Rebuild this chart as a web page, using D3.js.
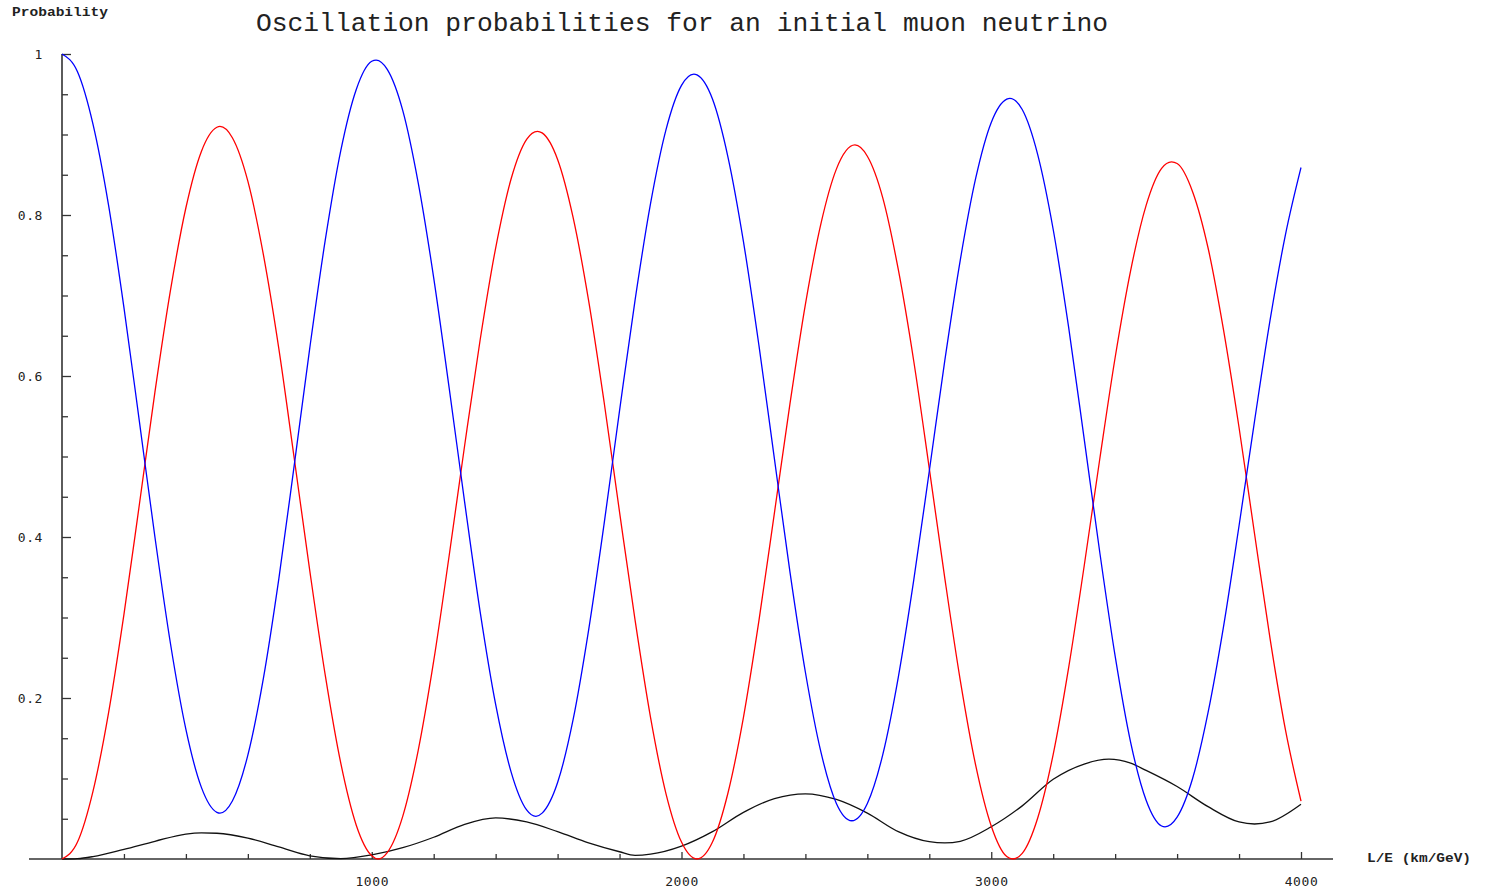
<!DOCTYPE html>
<html>
<head>
<meta charset="utf-8">
<script src="https://cdn.jsdelivr.net/npm/d3@7"></script>
<style>
  body { margin: 0; background: #fff; }
  svg { display: block; }
</style>
</head>
<body>
<div id="chart"></div>
<script>
// values: [L/E (km/GeV), probability]
var muToMu = [
	[0, 1.0], [50, 0.978], [100, 0.913], [150, 0.813], [200, 0.685], [250, 0.543],
	[300, 0.400], [350, 0.268], [400, 0.161], [450, 0.089], [500, 0.058], [510, 0.057],
	[550, 0.072], [600, 0.129], [650, 0.224], [700, 0.348], [750, 0.490], [800, 0.635],
	[850, 0.769], [900, 0.880], [950, 0.956], [1000, 0.991], [1014, 0.9925], [1050, 0.981],
	[1100, 0.930], [1150, 0.840], [1200, 0.722], [1250, 0.585], [1300, 0.443], [1350, 0.307],
	[1400, 0.192], [1450, 0.108], [1500, 0.061], [1530, 0.053], [1550, 0.057], [1600, 0.095],
	[1650, 0.173], [1700, 0.284], [1750, 0.416], [1800, 0.557], [1850, 0.694], [1900, 0.814],
	[1950, 0.906], [2000, 0.961], [2040, 0.975], [2050, 0.974], [2100, 0.944], [2150, 0.872],
	[2200, 0.767], [2250, 0.638], [2300, 0.497], [2350, 0.357], [2400, 0.232], [2450, 0.133],
	[2500, 0.069], [2550, 0.0475], [2600, 0.069], [2650, 0.130], [2700, 0.226], [2750, 0.347],
	[2800, 0.482], [2850, 0.619], [2900, 0.744], [2950, 0.846], [3000, 0.915], [3050, 0.944],
	[3060, 0.945], [3100, 0.931], [3150, 0.875], [3200, 0.782], [3250, 0.660], [3300, 0.522],
	[3350, 0.382], [3400, 0.252], [3450, 0.145], [3500, 0.073], [3550, 0.041], [3561, 0.040],
	[3600, 0.052], [3650, 0.100], [3700, 0.182], [3750, 0.289], [3800, 0.414], [3850, 0.544],
	[3900, 0.669], [3950, 0.776], [4000, 0.859]
];

var muToTau = [
	[0, 0], [50, 0.021], [100, 0.084], [150, 0.181], [200, 0.304], [250, 0.441],
	[300, 0.580], [350, 0.706], [400, 0.809], [450, 0.879], [500, 0.909], [510, 0.910],
	[550, 0.896], [600, 0.842], [650, 0.751], [700, 0.634], [750, 0.497], [800, 0.358],
	[850, 0.228], [900, 0.119], [950, 0.042], [1000, 0.004], [1020, 0], [1050, 0.008],
	[1100, 0.053], [1150, 0.135], [1200, 0.246], [1250, 0.377], [1300, 0.514], [1350, 0.645],
	[1400, 0.759], [1450, 0.845], [1500, 0.894], [1535, 0.904], [1550, 0.902], [1600, 0.869],
	[1650, 0.797], [1700, 0.694], [1750, 0.568], [1800, 0.431], [1850, 0.297], [1900, 0.176],
	[1950, 0.081], [2000, 0.021], [2050, 0], [2100, 0.021], [2150, 0.082], [2200, 0.176],
	[2250, 0.296], [2300, 0.430], [2350, 0.565], [2400, 0.689], [2450, 0.789], [2500, 0.857],
	[2560, 0.887], [2600, 0.873], [2650, 0.821], [2700, 0.732], [2750, 0.618], [2800, 0.485],
	[2850, 0.349], [2900, 0.222], [2950, 0.116], [3000, 0.041], [3050, 0.003], [3070, 0],
	[3100, 0.007], [3150, 0.051], [3200, 0.130], [3250, 0.238], [3300, 0.364], [3350, 0.496],
	[3400, 0.623], [3450, 0.731], [3500, 0.812], [3550, 0.858], [3582, 0.866], [3600, 0.864],
	[3650, 0.829], [3700, 0.759], [3750, 0.657], [3800, 0.536], [3850, 0.404], [3900, 0.274],
	[3950, 0.160], [4000, 0.072]
];

var muToE = [
	[0, 0], [50, 0.0005], [100, 0.003], [200, 0.012], [300, 0.022], [400, 0.031],
	[450, 0.0325], [500, 0.032], [600, 0.026], [700, 0.015], [800, 0.004], [900, 0.0005],
	[1000, 0.005], [1100, 0.014], [1200, 0.027], [1300, 0.043], [1400, 0.051], [1500, 0.046],
	[1600, 0.034], [1700, 0.020], [1800, 0.009], [1850, 0.0045], [1900, 0.006], [2000, 0.016],
	[2100, 0.034], [2200, 0.058], [2300, 0.075], [2400, 0.081], [2500, 0.074], [2600, 0.057],
	[2700, 0.034], [2800, 0.0215], [2850, 0.020], [2900, 0.022], [3000, 0.040], [3100, 0.066],
	[3200, 0.099], [3300, 0.118], [3380, 0.124], [3450, 0.119], [3500, 0.110], [3600, 0.090],
	[3700, 0.065], [3800, 0.046], [3850, 0.0435], [3900, 0.046], [4000, 0.068]
];

var xMajorTicks = [1000, 2000, 3000, 4000];
var xMinorTicks = [200, 400, 600, 800, 1200, 1400, 1600, 1800, 2200, 2400, 2600, 2800, 3200, 3400, 3600, 3800];
var yMajorTicks = [0.2, 0.4, 0.6, 0.8, 1];
var yMinorTicks = [0.05, 0.1, 0.15, 0.25, 0.3, 0.35, 0.45, 0.5, 0.55, 0.65, 0.7, 0.75, 0.85, 0.9, 0.95];

var titleText = 'Oscillation probabilities for an initial muon neutrino';
var yLabelText = 'Probability';
var xLabelText = 'L/E (km/GeV)';

var width = 1486;
var height = 889;

var svg = d3.select('#chart')
	.append('svg')
	.attr('width', width)
	.attr('height', height);

var x = d3.scaleLinear().domain([0, 4000]).range([62, 1301]);
var y = d3.scaleLinear().domain([0, 1]).range([859, 54]);

var axisColor = '#333';
var tickFont = '"DejaVu Sans Mono", monospace';

// x axis line runs a bit past both ends of the data
svg.append('line')
	.attr('x1', 29)
	.attr('x2', 1333)
	.attr('y1', y(0))
	.attr('y2', y(0))
	.attr('stroke', axisColor)
	.attr('stroke-width', 1.6);

function styleAxis(g) {
	g.select('.domain').remove();
	g.selectAll('.tick line')
		.attr('stroke', axisColor)
		.attr('stroke-width', 1.3);
	g.selectAll('.tick text')
		.attr('fill', '#222')
		.style('font-family', tickFont)
		.style('font-size', '13px')
		.style('letter-spacing', '0.6px');
}

svg.append('g')
	.attr('transform', 'translate(0,' + y(0) + ')')
	.call(d3.axisBottom(x)
		.tickValues(xMajorTicks)
		.tickSizeInner(-7)
		.tickSizeOuter(0)
		.tickPadding(18)
		.tickFormat(d3.format('d')))
	.call(styleAxis);

svg.append('g')
	.attr('transform', 'translate(0,' + y(0) + ')')
	.call(d3.axisBottom(x)
		.tickValues(xMinorTicks)
		.tickSizeInner(-5)
		.tickSizeOuter(0)
		.tickFormat(''))
	.call(styleAxis);

// y axis
svg.append('line')
	.attr('x1', x(0))
	.attr('x2', x(0))
	.attr('y1', y(0))
	.attr('y2', y(1))
	.attr('stroke', axisColor)
	.attr('stroke-width', 1.6);

svg.append('g')
	.attr('transform', 'translate(' + x(0) + ',0)')
	.call(d3.axisLeft(y)
		.tickValues(yMajorTicks)
		.tickSizeInner(-9)
		.tickSizeOuter(0)
		.tickPadding(19)
		.tickFormat(function(d) { return d === 1 ? '1' : d3.format('.1f')(d); }))
	.call(styleAxis);

svg.append('g')
	.attr('transform', 'translate(' + x(0) + ',0)')
	.call(d3.axisLeft(y)
		.tickValues(yMinorTicks)
		.tickSizeInner(-6)
		.tickSizeOuter(0)
		.tickFormat(''))
	.call(styleAxis);

// curves
var line = d3.line()
	.x(function(d) { return x(d[0]); })
	.y(function(d) { return y(d[1]); })
	.curve(d3.curveMonotoneX);

var series = [
	{ values: muToE, color: '#111' },
	{ values: muToTau, color: '#ff0000' },
	{ values: muToMu, color: '#0000ff' }
];

svg.selectAll('path.curve')
	.data(series)
	.enter()
	.append('path')
	.attr('class', 'curve')
	.attr('d', function(s) { return line(s.values); })
	.attr('fill', 'none')
	.attr('stroke', function(s) { return s.color; })
	.attr('stroke-width', 1.3);

// texts
svg.append('text')
	.attr('x', 256)
	.attr('y', 31)
	.attr('textLength', 852)
	.attr('lengthAdjust', 'spacingAndGlyphs')
	.style('font-family', '"Liberation Mono", "Courier New", monospace')
	.style('font-size', '25px')
	.attr('fill', '#222')
	.text(titleText);

svg.append('text')
	.attr('x', 12)
	.attr('y', 16)
	.attr('textLength', 96)
	.attr('lengthAdjust', 'spacingAndGlyphs')
	.style('font-family', '"Liberation Mono", "Courier New", monospace')
	.style('font-size', '12px')
	.style('font-weight', 'bold')
	.attr('fill', '#222')
	.text(yLabelText);

svg.append('text')
	.attr('x', 1367)
	.attr('y', 862)
	.attr('textLength', 104)
	.attr('lengthAdjust', 'spacingAndGlyphs')
	.style('font-family', '"Liberation Mono", "Courier New", monospace')
	.style('font-size', '12px')
	.style('font-weight', 'bold')
	.attr('fill', '#222')
	.text(xLabelText);
</script>
</body>
</html>
